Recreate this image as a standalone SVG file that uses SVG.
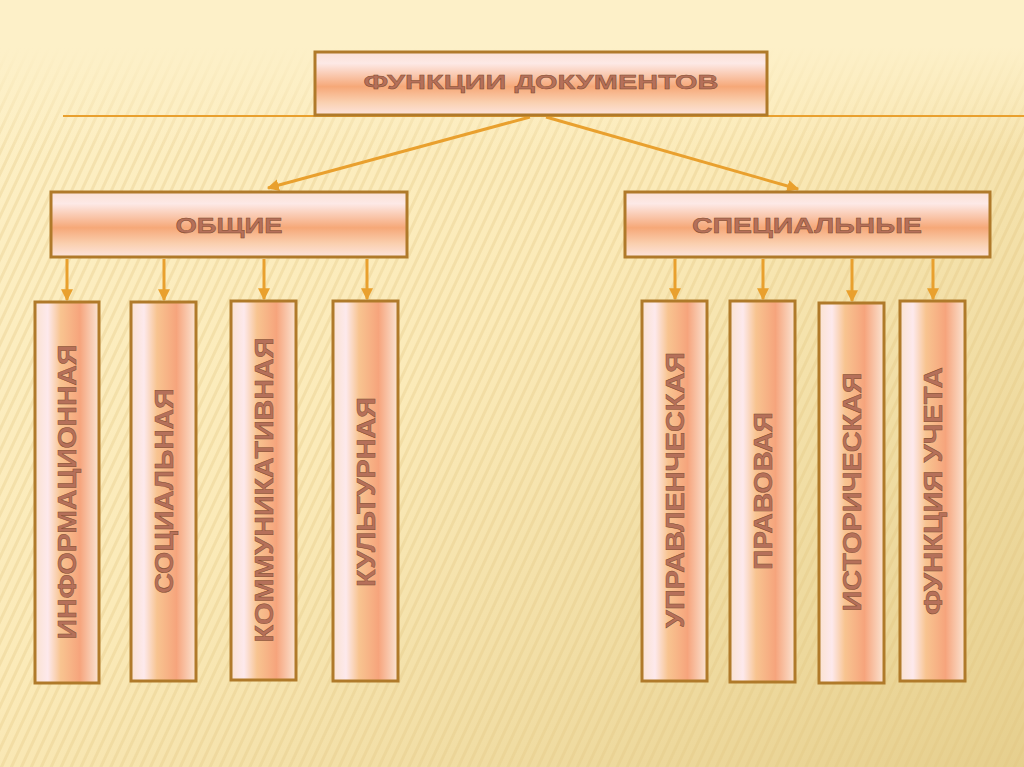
<svg xmlns="http://www.w3.org/2000/svg" width="1024" height="767" viewBox="0 0 1024 767">
<defs>
<linearGradient id="bg" x1="0" y1="0" x2="1" y2="1">
<stop offset="0" stop-color="#fdf0c6"/>
<stop offset="0.45" stop-color="#fbeab8"/>
<stop offset="1" stop-color="#e6cf8e"/>
</linearGradient>
<pattern id="stripes" width="9" height="9" patternUnits="userSpaceOnUse" patternTransform="rotate(25)">
<rect x="0" y="0" width="3" height="9" fill="#e2c47e" opacity="0.3"/>
</pattern>
<linearGradient id="fadeTop" x1="0" y1="0" x2="0" y2="1">
<stop offset="0" stop-color="#fdf0c8" stop-opacity="1"/>
<stop offset="0.06" stop-color="#fdf0c8" stop-opacity="1"/>
<stop offset="0.2" stop-color="#fdf0c8" stop-opacity="0"/>
</linearGradient>
<linearGradient id="hbox" x1="0" y1="0" x2="0" y2="1">
<stop offset="0" stop-color="#fbe0d4"/>
<stop offset="0.18" stop-color="#fde9e6"/>
<stop offset="0.55" stop-color="#f6a878"/>
<stop offset="0.8" stop-color="#fad0b0"/>
<stop offset="1" stop-color="#fde4dc"/>
</linearGradient>
<linearGradient id="vbox" x1="0" y1="0" x2="1" y2="0">
<stop offset="0" stop-color="#fbe2d0"/>
<stop offset="0.2" stop-color="#fde9ec"/>
<stop offset="0.4" stop-color="#f8c490"/>
<stop offset="0.7" stop-color="#f6a47c"/>
<stop offset="1" stop-color="#fbe4d2"/>
</linearGradient>
<marker id="arr" viewBox="0 0 10 10" refX="9" refY="5" markerWidth="4" markerHeight="4" orient="auto">
<path d="M0,0 L10,5 L0,10 Z" fill="#e9a02e"/>
</marker>
</defs>
<style>
.hb{fill:url(#hbox);stroke:#b07a2a;stroke-width:3}
.vb{fill:url(#vbox);stroke:#b07a2a;stroke-width:3}
.t{font-family:"Liberation Sans",Arial,sans-serif;font-weight:bold;fill:#b5705a;stroke:#7e4a2e;stroke-width:0.45;text-anchor:middle;dominant-baseline:central}
.h{font-size:21px}
.h2{font-size:22px}
.v{font-size:26px}
.c{stroke:#e9a02e;stroke-width:3;fill:none;marker-end:url(#arr)}
</style>
<rect width="1024" height="767" fill="url(#bg)"/>
<rect width="1024" height="767" fill="url(#stripes)"/>
<rect width="1024" height="767" fill="url(#fadeTop)"/>
<line x1="63" y1="116" x2="1024" y2="116" stroke="#e9a02e" stroke-width="2"/>

<g id="connectors">
<line class="c" x1="530" y1="117" x2="268" y2="188"/>
<line class="c" x1="546" y1="117" x2="798" y2="189"/>
<line class="c" x1="67" y1="259" x2="67" y2="300"/>
<line class="c" x1="164" y1="259" x2="164" y2="300"/>
<line class="c" x1="264" y1="259" x2="264" y2="299"/>
<line class="c" x1="367" y1="259" x2="367" y2="299"/>
<line class="c" x1="675" y1="259" x2="675" y2="299"/>
<line class="c" x1="763" y1="259" x2="763" y2="299"/>
<line class="c" x1="852" y1="259" x2="852" y2="301"/>
<line class="c" x1="933" y1="259" x2="933" y2="299"/>
</g>

<g id="root">
<rect class="hb" x="315" y="52" width="452" height="63"/>
<text class="t h" x="541" y="81" textLength="355" lengthAdjust="spacingAndGlyphs">ФУНКЦИИ ДОКУМЕНТОВ</text>
</g>
<g id="general">
<rect class="hb" x="51" y="192" width="356" height="65"/>
<text class="t h2" x="229" y="225" textLength="107" lengthAdjust="spacingAndGlyphs">ОБЩИЕ</text>
</g>
<g id="special">
<rect class="hb" x="625" y="192" width="365" height="65"/>
<text class="t h2" x="807" y="225" textLength="230" lengthAdjust="spacingAndGlyphs">СПЕЦИАЛЬНЫЕ</text>
</g>

<g id="info">
<rect class="vb" x="35" y="302" width="64" height="381"/>
<text class="t v" x="67" y="492" transform="rotate(-90 67 492)" textLength="295" lengthAdjust="spacingAndGlyphs">ИНФОРМАЦИОННАЯ</text>
</g>
<g id="social">
<rect class="vb" x="131" y="302" width="65" height="379"/>
<text class="t v" x="164" y="491" transform="rotate(-90 164 491)" textLength="205" lengthAdjust="spacingAndGlyphs">СОЦИАЛЬНАЯ</text>
</g>
<g id="communicative">
<rect class="vb" x="231" y="301" width="65" height="379"/>
<text class="t v" x="264" y="490" transform="rotate(-90 264 490)" textLength="305" lengthAdjust="spacingAndGlyphs">КОММУНИКАТИВНАЯ</text>
</g>
<g id="cultural">
<rect class="vb" x="333" y="301" width="65" height="380"/>
<text class="t v" x="366" y="492" transform="rotate(-90 366 492)" textLength="190" lengthAdjust="spacingAndGlyphs">КУЛЬТУРНАЯ</text>
</g>
<g id="managerial">
<rect class="vb" x="642" y="301" width="65" height="380"/>
<text class="t v" x="675" y="490" transform="rotate(-90 675 490)" textLength="276" lengthAdjust="spacingAndGlyphs">УПРАВЛЕНЧЕСКАЯ</text>
</g>
<g id="legal">
<rect class="vb" x="730" y="301" width="65" height="381"/>
<text class="t v" x="763" y="491" transform="rotate(-90 763 491)" textLength="158" lengthAdjust="spacingAndGlyphs">ПРАВОВАЯ</text>
</g>
<g id="historical">
<rect class="vb" x="819" y="303" width="65" height="380"/>
<text class="t v" x="852" y="492" transform="rotate(-90 852 492)" textLength="239" lengthAdjust="spacingAndGlyphs">ИСТОРИЧЕСКАЯ</text>
</g>
<g id="accounting">
<rect class="vb" x="900" y="301" width="65" height="380"/>
<text class="t v" x="933" y="491" transform="rotate(-90 933 491)" textLength="248" lengthAdjust="spacingAndGlyphs">ФУНКЦИЯ УЧЕТА</text>
</g>
</svg>
